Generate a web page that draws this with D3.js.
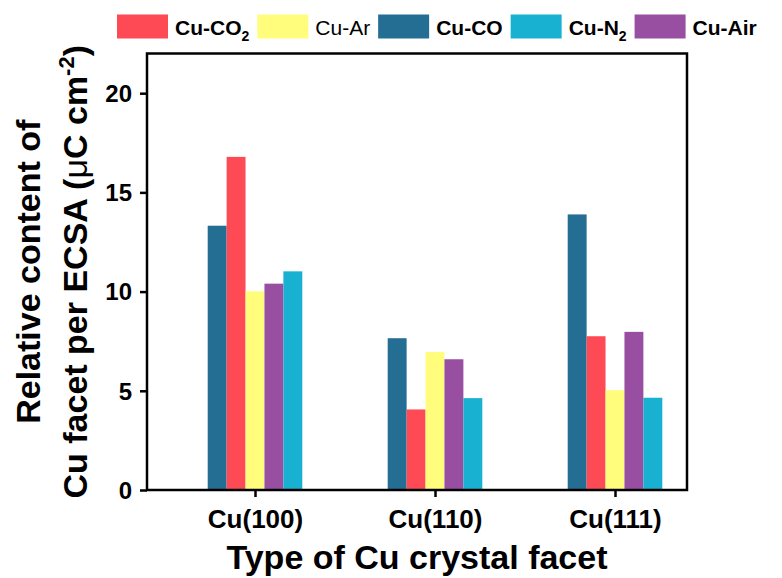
<!DOCTYPE html>
<html>
<head>
<meta charset="utf-8">
<script src="https://cdn.jsdelivr.net/npm/d3@7/dist/d3.min.js"></script>
<style>
  html, body { margin: 0; padding: 0; background: #fff; }
  svg { display: block; font-family: "Liberation Sans", Arial, sans-serif; }
</style>
</head>
<body>
<svg id="chart" width="782" height="578"></svg>
<script>
// ---- data ----
const categories = ["Cu(100)", "Cu(110)", "Cu(111)"];
const seriesKeys = ["Cu-CO", "Cu-CO2", "Cu-Ar", "Cu-Air", "Cu-N2"];   // bar order inside a group
const cuCO  = [13.32, 7.65, 13.89];
const cuCO2 = [16.79, 4.06, 7.75];
const cuAr  = [10.02, 6.96, 5.03];
const cuAir = [10.40, 6.59, 7.97];
const cuN2  = [11.02, 4.63, 4.65];
const yTicks = [0, 5, 10, 15, 20];
const legendOrder = ["Cu-CO2", "Cu-Ar", "Cu-CO", "Cu-N2", "Cu-Air"];

const seriesValues = { "Cu-CO": cuCO, "Cu-CO2": cuCO2, "Cu-Ar": cuAr, "Cu-Air": cuAir, "Cu-N2": cuN2 };
const colors = { "Cu-CO": "#246E94", "Cu-CO2": "#FE4A55", "Cu-Ar": "#FFFD7B", "Cu-Air": "#984FA1", "Cu-N2": "#18B1D1" };

// ---- layout ----
const plot = { left: 147, right: 687, top: 53.5, bottom: 490 };
const svg = d3.select("#chart");

const x = d3.scaleLinear().domain([-0.6, 2.4]).range([plot.left, plot.right]);
const inner = d3.scaleBand().domain(seriesKeys).range([-47.3, 47.3]).padding(0);
const y = d3.scaleLinear().domain([0, 22]).range([plot.bottom, plot.top]);

// ---- bars ----
const rows = [];
categories.forEach((c, i) => seriesKeys.forEach(k => rows.push({ i, k, v: seriesValues[k][i] })));
svg.append("g").selectAll("rect").data(rows).enter().append("rect")
  .attr("x", d => x(d.i) + inner(d.k))
  .attr("width", inner.bandwidth())
  .attr("y", d => y(d.v))
  .attr("height", d => y(0) - y(d.v))
  .attr("fill", d => colors[d.k]);

// ---- axes ----
const yAxis = svg.append("g").attr("transform", `translate(${plot.left},0)`)
  .call(d3.axisLeft(y).tickValues(yTicks).tickSize(7).tickSizeOuter(0).tickPadding(8));
const xAxis = svg.append("g").attr("transform", `translate(0,${plot.bottom})`)
  .call(d3.axisBottom(x).tickValues([0, 1, 2]).tickFormat(i => categories[i]).tickSize(7).tickSizeOuter(0).tickPadding(13));

[yAxis, xAxis].forEach(g => {
  g.select(".domain").remove();
  g.selectAll(".tick line").attr("stroke", "#000").attr("stroke-width", 2.5);
  g.selectAll(".tick text").attr("fill", "#000").attr("font-weight", "bold")
    .attr("font-family", "Liberation Sans, Arial, sans-serif");
});
yAxis.selectAll(".tick text").attr("font-size", 24).attr("dy", "0.35em");
xAxis.selectAll(".tick text").attr("font-size", 26).attr("dy", "0.71em");

// frame
svg.append("rect")
  .attr("x", plot.left).attr("y", plot.top)
  .attr("width", plot.right - plot.left).attr("height", plot.bottom - plot.top)
  .attr("fill", "none").attr("stroke", "#000").attr("stroke-width", 2.5);

// ---- axis titles ----
svg.append("text")
  .attr("x", (plot.left + plot.right) / 2).attr("y", 569)
  .attr("text-anchor", "middle").attr("font-size", 34).attr("font-weight", "bold")
  .text("Type of Cu crystal facet");

const yc = (plot.top + plot.bottom) / 2;
svg.append("text")
  .attr("transform", `translate(40,${yc}) rotate(-90)`)
  .attr("text-anchor", "middle").attr("font-size", 34).attr("font-weight", "bold")
  .text("Relative content of");
const t2 = svg.append("text")
  .attr("transform", `translate(87,${yc}) rotate(-90)`)
  .attr("text-anchor", "middle").attr("font-size", 34).attr("font-weight", "bold");
t2.append("tspan").text("Cu facet per ECSA (");
t2.append("tspan").attr("font-weight", "normal").text("\u03bc");
t2.append("tspan").text("C cm");
t2.append("tspan").attr("font-size", 22).attr("dy", -13).text("-2");
t2.append("tspan").attr("dy", 13).text(")");

// ---- legend ----
const legend = svg.append("g");
let lx = 117;
const swW = 51, swH = 24, swY = 14.5;
legendOrder.forEach(k => {
  legend.append("rect").attr("x", lx).attr("y", swY).attr("width", swW).attr("height", swH).attr("fill", colors[k]);
  const t = legend.append("text").attr("x", lx + swW + 7).attr("y", 34.5).attr("font-size", 21)
    .attr("font-weight", k === "Cu-Ar" ? "normal" : "bold");
  if (k === "Cu-CO2") { t.append("tspan").text("Cu-CO"); t.append("tspan").attr("font-size", 14).attr("dy", 6).text("2"); }
  else if (k === "Cu-N2") { t.append("tspan").text("Cu-N"); t.append("tspan").attr("font-size", 14).attr("dy", 6).text("2"); }
  else t.text(k);
  lx = lx + swW + 7 + t.node().getComputedTextLength() + 8;
});
</script>
</body>
</html>
